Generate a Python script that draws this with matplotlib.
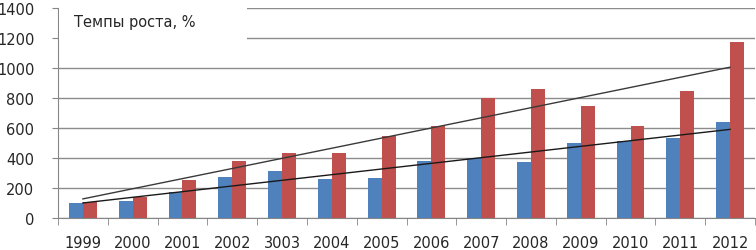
import matplotlib.pyplot as plt
import matplotlib.patches as mpatches
import numpy as np

years = ["1999", "2000", "2001", "2002", "3003", "2004", "2005",
         "2006", "2007", "2008", "2009", "2010", "2011", "2012"]
blue_vals = [98, 111, 176, 271, 313, 262, 265, 378, 400, 376, 502, 515, 531, 640]
red_vals = [104, 140, 255, 380, 431, 431, 545, 611, 800, 858, 745, 611, 849, 1171]
title_txt = "Темпы роста, %"

fig = plt.figure(figsize=(7.56, 2.51), dpi=100)
ax = fig.add_axes([58/756, 1-219/251, 697/756, 210/251])

x = np.arange(len(years))
w = 0.28
ax.bar(x - w/2, blue_vals, w, color="#4F81BD", zorder=2)
ax.bar(x + w/2, red_vals, w, color="#C0504D", zorder=2)

# linear trend lines (Excel style)
for vals, col in ((blue_vals, "#1a1a1a"), (red_vals, "#3a3a3a")):
    k, b = np.polyfit(x, vals, 1)
    ax.plot(x, k*x + b, color=col, lw=1.0, zorder=3)

ax.set_xlim(-0.5, len(years) - 0.5)
ax.set_ylim(0, 1400)
ax.set_yticks(range(0, 1401, 200))
ax.set_xticks(x)
ax.set_xticklabels(years)
ax.set_xticks(np.arange(-0.5, len(years), 1), minor=True)
ax.tick_params(axis="x", which="major", length=0, pad=12, labelsize=10.5, labelcolor="#262626")
ax.tick_params(axis="x", which="minor", length=5, color="#868686")
ax.tick_params(axis="y", length=4, color="#868686", labelsize=10.5, labelcolor="#262626", pad=13)

ax.grid(axis="y", color="#8c8c8c", lw=1.0, zorder=0.5)
ax.set_axisbelow(True)
for s in ("top", "right"):
    ax.spines[s].set_visible(False)
for s in ("left", "bottom"):
    ax.spines[s].set_color("#868686")

# white box behind the title
box = mpatches.Rectangle((58.5/756, 1-41/251), (247-58.5)/756, 41/251,
                         transform=fig.transFigure, facecolor="white",
                         edgecolor="none", zorder=2.6, clip_on=False)
ax.add_patch(box)
fig.text(74/756, 1-23/251, title_txt, fontsize=10.5, color="#262626",
         va="center", ha="left", zorder=5)

fig.savefig("out.png", dpi=100)
